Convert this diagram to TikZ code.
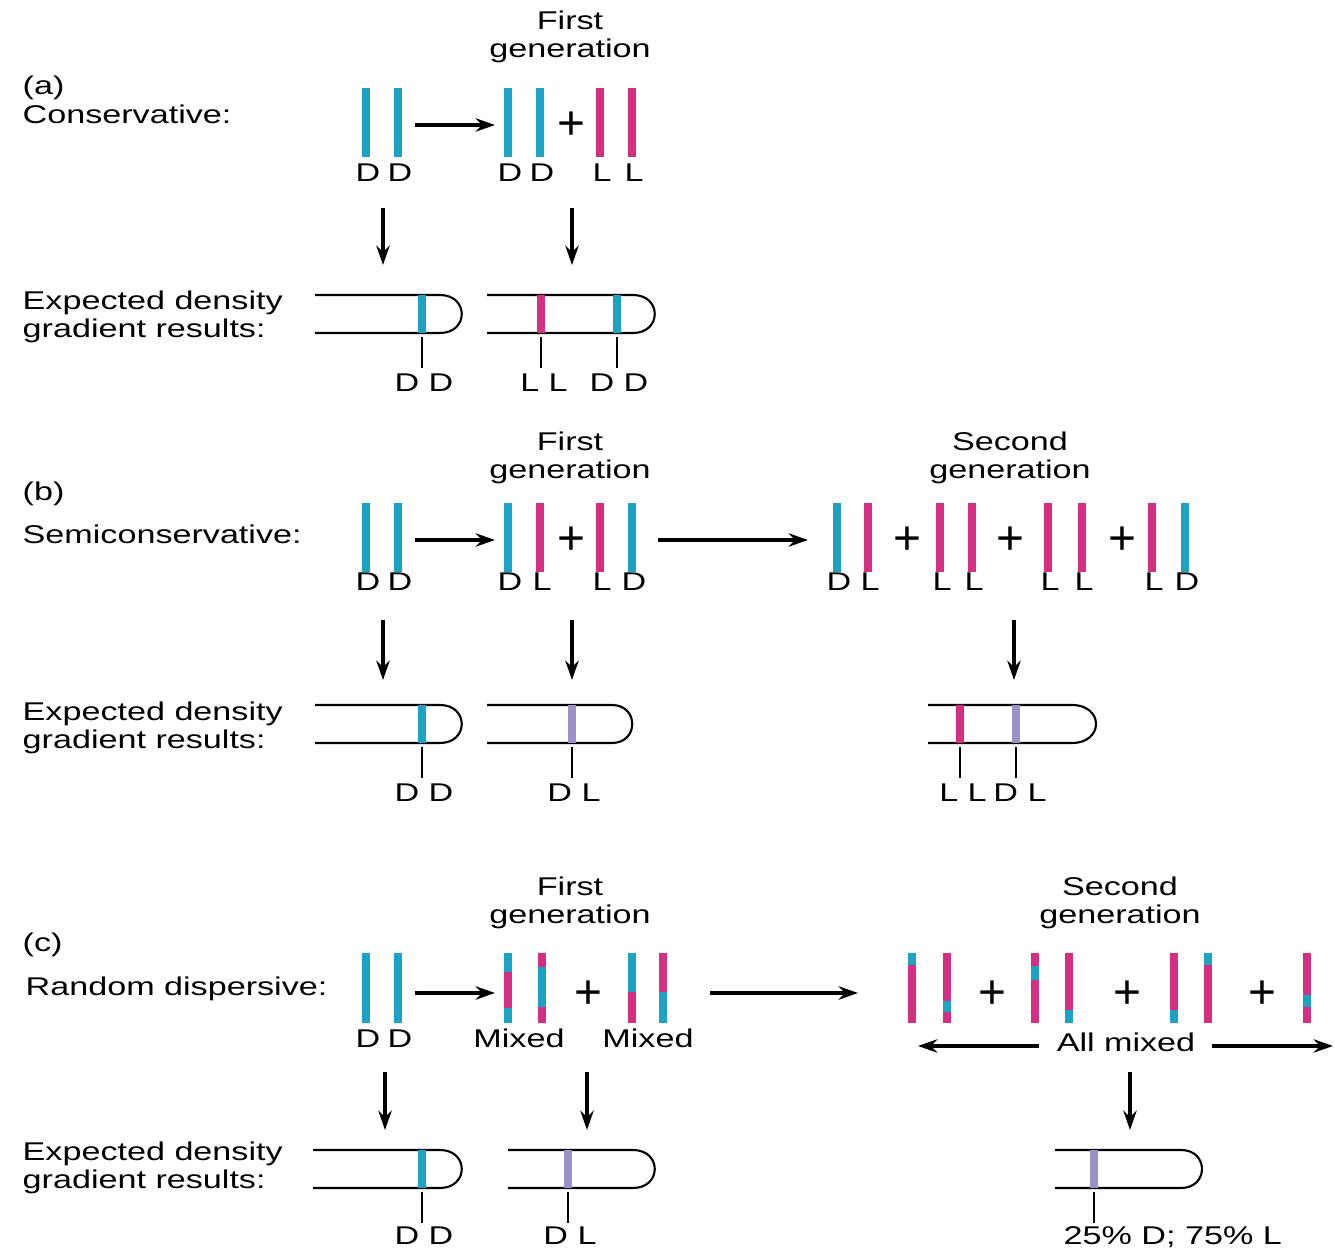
\documentclass[tikz,border=0pt]{standalone}
\usepackage{fontspec}
\setmainfont[FakeStretch=1.33]{Liberation Sans}
\newfontfamily\plusfont{Liberation Sans}
\usetikzlibrary{arrows.meta}

\definecolor{dcol}{RGB}{28,163,196}
\definecolor{lcol}{RGB}{213,46,130}
\definecolor{hcol}{RGB}{156,144,198}

\tikzset{
  strandline/.style={line width=2.1pt},
  tubeline/.style={line width=0.6pt},
  bandline/.style={line width=2pt},
  tickline/.style={line width=0.6pt},
  arr/.style={-{Stealth[length=5.5pt,width=3.8pt]},line width=0.9pt},
  lbl/.style={inner sep=0pt,anchor=base},
  gen/.style={inner sep=0pt,anchor=north,align=center},
  plus/.style={inner sep=0pt,font=\fontsize{13.6}{14}\plusfont}
}

% tube: left x, straight end x, top y, cap depth
\newcommand{\testtube}[4]{%
  \draw[tubeline] (#1,#3) -- (#2,#3) .. controls +(#4,0) and +(#4,0) .. (#2,#3+38) -- (#1,#3+38);}
% band in a tube with its tick: x, top y, colour
\newcommand{\gband}[3]{%
  \draw[bandline,#3] (#1,#2) -- (#1,#2+38);
  \draw[tickline] (#1,#2+42) -- (#1,#2+73);}

\begin{document}
\begin{tikzpicture}[x=0.01cm,y=-0.01cm,font=\fontsize{7.3}{8}\selectfont]
  \useasboundingbox (0,0) rectangle (1335,1252);

  % (a) conservative
  \node[gen] (gen1a) at (570,10) {First\\generation};
  \node[lbl,anchor=base west] (taga) at (22,95) {(a)};
  \node[lbl,anchor=base west] (namea) at (22,124) {Conservative:};
  \foreach \x/\c/\t [count=\i] in {366/dcol/D,398/dcol/D,508/dcol/D,540/dcol/D,600/lcol/L,632/lcol/L} {
    \draw[strandline,\c] (\x,88) -- (\x,157);
    \node[lbl] (a-lab\i) at (\x+2,182) {\t};
  }
  \node[plus] (a-plus) at (571,126) {+};
  \coordinate (a-r1) at (415,125);
  \coordinate (a-r2) at (495,125);
  \draw[arr] (a-r1) -- (a-r2);
  \foreach \x [count=\i] in {383,572} {
    \coordinate (a-d\i) at (\x,208);
    \coordinate (a-t\i) at (\x,265);
    \draw[arr] (a-d\i) -- (a-t\i);
  }
  \node[gen,anchor=north west,align=left] (expa) at (22,290) {Expected density\\gradient results:};
  \testtube{315}{440}{295}{29}
  \testtube{487}{633}{295}{29}
  \gband{422}{295}{dcol}
  \gband{541}{295}{lcol}
  \gband{617}{295}{dcol}
  \node[lbl] (a-res1) at (424,392) {D D};
  \node[lbl] (a-res2) at (544,392) {L L};
  \node[lbl] (a-res3) at (619,392) {D D};

  % (b) semiconservative
  \node[gen] (gen1b) at (570,431) {First\\generation};
  \node[gen] (gen2b) at (1010,431) {Second\\generation};
  \node[lbl,anchor=base west] (tagb) at (22,501) {(b)};
  \node[lbl,anchor=base west] (nameb) at (22,544) {Semiconservative:};
  \foreach \x/\c/\t [count=\i] in {366/dcol/D,398/dcol/D,508/dcol/D,540/lcol/L,600/lcol/L,632/dcol/D,
      837/dcol/D,868/lcol/L,940/lcol/L,972/lcol/L,1048/lcol/L,1082/lcol/L,1152/lcol/L,1185/dcol/D} {
    \draw[strandline,\c] (\x,503) -- (\x,572);
    \node[lbl] (b-lab\i) at (\x+2,591) {\t};
  }
  \foreach \x [count=\i] in {571,907,1010,1122}
    \node[plus] (b-plus\i) at (\x,541) {+};
  \coordinate (b-r1) at (415,540);
  \coordinate (b-r2) at (495,540);
  \coordinate (b-r3) at (658,540);
  \coordinate (b-r4) at (808,540);
  \draw[arr] (b-r1) -- (b-r2);
  \draw[arr] (b-r3) -- (b-r4);
  \foreach \x [count=\i] in {383,572,1014} {
    \coordinate (b-d\i) at (\x,620);
    \coordinate (b-t\i) at (\x,680);
    \draw[arr] (b-d\i) -- (b-t\i);
  }
  \node[gen,anchor=north west,align=left] (expb) at (22,701) {Expected density\\gradient results:};
  \testtube{315}{440}{705}{29}
  \testtube{487}{612}{705}{27}
  \testtube{928}{1072}{705}{32}
  \gband{422}{705}{dcol}
  \gband{572}{705}{hcol}
  \gband{960}{705}{lcol}
  \gband{1016}{705}{hcol}
  \node[lbl] (b-res1) at (424,802) {D D};
  \node[lbl] (b-res2) at (574,802) {D L};
  \node[lbl] (b-res3) at (963,802) {L L};
  \node[lbl] (b-res4) at (1020,802) {D L};

  % (c) random dispersive
  \node[gen] (gen1c) at (570,876) {First\\generation};
  \node[gen] (gen2c) at (1120,876) {Second\\generation};
  \node[lbl,anchor=base west] (tagc) at (22,952) {(c)};
  \node[lbl,anchor=base west] (namec) at (25,996) {Random dispersive:};
  \foreach \x [count=\i] in {366,398} {
    \draw[strandline,dcol] (\x,953) -- (\x,1023);
    \node[lbl] (c-lab\i) at (\x+2,1048) {D};
  }
  \foreach \x/\c in {508/dcol,542/lcol,632/dcol,663/lcol,912/lcol,947/lcol,1035/lcol,1069/lcol,1174/lcol,1208/lcol,1307/lcol}
    \draw[strandline,\c] (\x,953) -- (\x,1023);
  \foreach \x/\c/\f/\t in {508/lcol/972/1008,542/dcol/967/1007,632/lcol/992/1023,663/dcol/992/1023,
      912/dcol/953/965,947/dcol/1001/1012,1035/dcol/966/980,1069/dcol/1010/1023,
      1174/dcol/1010/1023,1208/dcol/953/965,1307/dcol/995/1007}
    \draw[strandline,\c] (\x,\f) -- (\x,\t);
  \node[lbl] (c-mix1) at (519,1048) {Mixed};
  \node[lbl] (c-mix2) at (648,1048) {Mixed};
  \node[lbl] (c-all) at (1126,1052) {All mixed};
  \foreach \x [count=\i] in {588,992,1127,1262}
    \node[plus] (c-plus\i) at (\x,995) {+};
  \coordinate (c-r1) at (415,993);
  \coordinate (c-r2) at (495,993);
  \coordinate (c-r3) at (710,993);
  \coordinate (c-r4) at (858,993);
  \coordinate (c-m1) at (1039,1046);
  \coordinate (c-m2) at (918,1046);
  \coordinate (c-m3) at (1212,1046);
  \coordinate (c-m4) at (1333,1046);
  \draw[arr] (c-r1) -- (c-r2);
  \draw[arr] (c-r3) -- (c-r4);
  \draw[arr] (c-m1) -- (c-m2);
  \draw[arr] (c-m3) -- (c-m4);
  \foreach \x [count=\i] in {385,587,1130} {
    \coordinate (c-d\i) at (\x,1072);
    \coordinate (c-t\i) at (\x,1130);
    \draw[arr] (c-d\i) -- (c-t\i);
  }
  \node[gen,anchor=north west,align=left] (expc) at (22,1141) {Expected density\\gradient results:};
  \testtube{313}{440}{1150}{29}
  \testtube{508}{633}{1150}{29}
  \testtube{1055}{1181}{1150}{28}
  \gband{422}{1150}{dcol}
  \gband{568}{1150}{hcol}
  \gband{1094}{1150}{hcol}
  \node[lbl] (c-res1) at (424,1245) {D D};
  \node[lbl] (c-res2) at (570,1245) {D L};
  \node[lbl,anchor=base west] (c-res3) at (1063,1245) {25\% D; 75\% L};
\end{tikzpicture}
\end{document}
